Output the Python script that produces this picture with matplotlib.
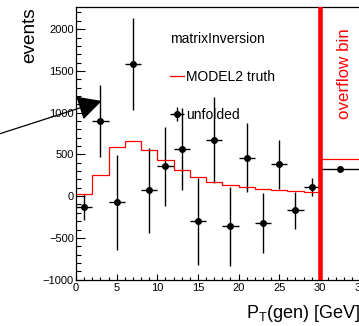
import numpy as np
import matplotlib.pyplot as plt
from matplotlib.ticker import MultipleLocator

plt.rcParams['font.family'] = ['Liberation Sans', 'DejaVu Sans']
plt.rcParams['mathtext.fontset'] = 'custom'
plt.rcParams['mathtext.rm'] = 'Liberation Sans'

# bins of P_T(gen), last one is the overflow bin
bin_edges = [0, 2, 4, 6, 8, 10, 12, 14, 16, 18, 20, 22, 24, 26, 28, 30, 35]
bin_centers = [1, 3, 5, 7, 9, 11, 13, 15, 17, 19, 21, 23, 25, 27, 29, 32.5]
bin_halfwidth = [1, 1, 1, 1, 1, 1, 1, 1, 1, 1, 1, 1, 1, 1, 1, 2.5]

# MODEL2 truth
truth = [20, 248, 588, 665, 558, 428, 308, 228, 168, 137, 108, 84, 68, 56, 44, 444]

# unfolded result and errors
unfolded = [-130, 900, -75, 1580, 70, 355, 560, -300, 670, -364, 460, -320, 380, -172, 108, 328]
unfolded_err = [160, 428, 565, 550, 510, 470, 490, 520, 515, 478, 416, 361, 296, 220, 112, 0]

fig = plt.figure(figsize=(3.59, 3.26), dpi=100)
W, H = 359, 326
ax = fig.add_axes([76 / W, 46 / H, 284.5 / W, 272.7 / H])

eb = ax.errorbar(bin_centers, unfolded, yerr=unfolded_err, xerr=bin_halfwidth,
                 fmt='o', color='black', ms=4, elinewidth=1.0, capsize=0,
                 zorder=2, label='unfolded')
st = ax.stairs(truth, bin_edges, color='#ff0000', linewidth=0.9, baseline=None,
               zorder=3, label='MODEL2 truth')

# overflow separator
ax.axvline(30, color='#ff0000', linewidth=3.3, zorder=4)
ax.text(33.0, 1472, 'overflow bin', color='#ff0000', rotation=90,
        ha='center', va='center', fontsize=12.2)

ax.set_xlim(0, 35)
ax.set_ylim(-1005, 2262)

ax.xaxis.set_major_locator(MultipleLocator(5))
ax.xaxis.set_minor_locator(MultipleLocator(1))
ax.yaxis.set_major_locator(MultipleLocator(500))
ax.yaxis.set_minor_locator(MultipleLocator(100))
ax.tick_params(axis='both', which='both', direction='in', width=0.8,
               top=False, right=False, labelsize=8)
ax.tick_params(axis='y', which='major', length=6.5, pad=1.5)
ax.tick_params(axis='y', which='minor', length=3.3)
ax.tick_params(axis='x', which='major', length=4.2, pad=2.5)
ax.tick_params(axis='x', which='minor', length=2.4)
for s in ax.spines.values():
    s.set_linewidth(0.9)

ax.set_xlabel(r'P$_{\rm T}$(gen) [GeV]', fontsize=13, ha='right', va='baseline')
ax.xaxis.set_label_coords(1.0, -0.139)
ax.text(-0.162, 1.0, 'events', rotation=90, ha='center', va='top',
        fontsize=13.7, transform=ax.transAxes)

leg = ax.legend(handles=[st, eb], labels=['MODEL2 truth', 'unfolded'],
                title='matrixInversion', loc='upper left',
                bbox_to_anchor=(0.332, 0.910), frameon=False, fontsize=10,
                title_fontsize=10, alignment='left', borderpad=0,
                borderaxespad=0, handlelength=0.95, handletextpad=0.15,
                labelspacing=1.73)

# arrow pointing at the first bins
ax.annotate('', xy=(3.16, 1140), xytext=(-9.6, 740), xycoords='data',
            textcoords='data', annotation_clip=False,
            arrowprops=dict(arrowstyle='-|>,head_length=1.0,head_width=0.52',
                            mutation_scale=15, color='black', lw=0.9,
                            shrinkA=0, shrinkB=0))

fig.savefig('out.png', dpi=100)
